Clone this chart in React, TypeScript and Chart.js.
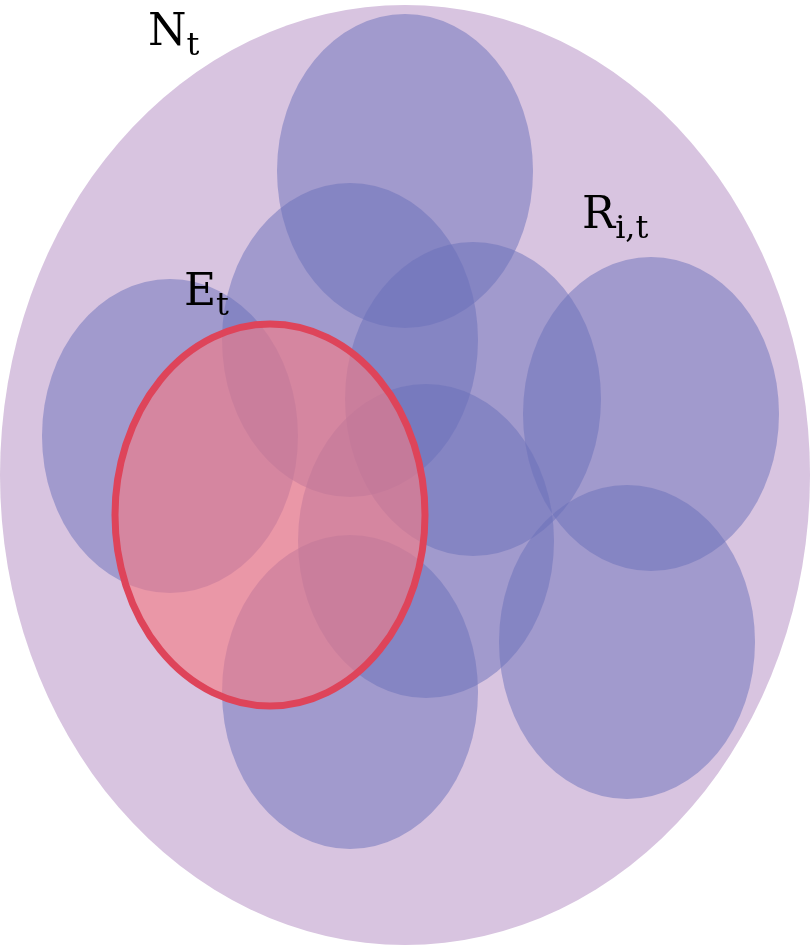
import { useEffect, useRef } from 'react';
import { Chart, registerables } from 'chart.js';

Chart.register(...registerables);

// outer set N_t
const outerCenter = [405, 475];
const outerRadius = [405, 470];

// blue sets R_i,t
const blueX = [405, 350, 473, 170, 651, 426, 627, 350];
const blueY = [171, 340, 399, 436, 414, 541, 642, 692];
const blueRx = 128;
const blueRy = 157;

// red set E_t
const redCenter = [270, 515];
const redRadius = [155, 191];

const labels = [
  { main: 'N', sub: 't', x: 148, y: 45 },
  { main: 'R', sub: 'i,t', x: 582, y: 228 },
  { main: 'E', sub: 't', x: 184, y: 305 },
];

const ellipsePlugin = {
  id: 'ellipses',
  beforeDatasetsDraw(chart: any) {
    const { ctx, scales } = chart;
    const xs = scales.x;
    const ys = scales.y;
    const draw = (cx: number, cy: number, rx: number, ry: number, fill: string, stroke?: string, lw = 0) => {
      const px = xs.getPixelForValue(cx);
      const py = ys.getPixelForValue(cy);
      const prx = Math.abs(xs.getPixelForValue(cx + rx) - px);
      const pry = Math.abs(ys.getPixelForValue(cy + ry) - py);
      ctx.beginPath();
      ctx.ellipse(px, py, prx, pry, 0, 0, Math.PI * 2);
      ctx.fillStyle = fill;
      ctx.fill();
      if (stroke) {
        ctx.lineWidth = lw;
        ctx.strokeStyle = stroke;
        ctx.stroke();
      }
    };
    ctx.save();
    draw(outerCenter[0], outerCenter[1], outerRadius[0], outerRadius[1], 'rgb(216,196,224)');
    blueX.forEach((x, i) => draw(x, blueY[i], blueRx, blueRy, 'rgba(105,112,185,0.5)'));
    draw(redCenter[0], redCenter[1], redRadius[0], redRadius[1], 'rgba(246,122,132,0.62)', 'rgb(222,68,90)', 7);
    ctx.fillStyle = '#000';
    ctx.textBaseline = 'alphabetic';
    labels.forEach((l) => {
      const px = xs.getPixelForValue(l.x);
      const py = ys.getPixelForValue(l.y);
      ctx.font = '44px "DejaVu Serif"';
      ctx.fillText(l.main, px, py);
      const w = ctx.measureText(l.main).width;
      ctx.font = '32px "DejaVu Serif"';
      ctx.fillText(l.sub, px + w, py + 10);
    });
    ctx.restore();
  },
};

export default function App() {
  const ref = useRef<HTMLCanvasElement>(null);

  useEffect(() => {
    if (!ref.current) return;
    document.body.style.margin = '0';
    const chart = new Chart(ref.current, {
      type: 'scatter',
      data: {
        datasets: [{ data: blueX.map((x, i) => ({ x, y: blueY[i] })), pointRadius: 0 }],
      },
      options: {
        responsive: false,
        animation: false,
        layout: { padding: 0 },
        scales: {
          x: { type: 'linear', min: 0, max: 810, display: false },
          y: { type: 'linear', min: 0, max: 946, reverse: true, display: false },
        },
        plugins: { legend: { display: false }, tooltip: { enabled: false } },
      },
      plugins: [ellipsePlugin],
    });
    return () => chart.destroy();
  }, []);

  return <canvas ref={ref} width={810} height={946} />;
}
